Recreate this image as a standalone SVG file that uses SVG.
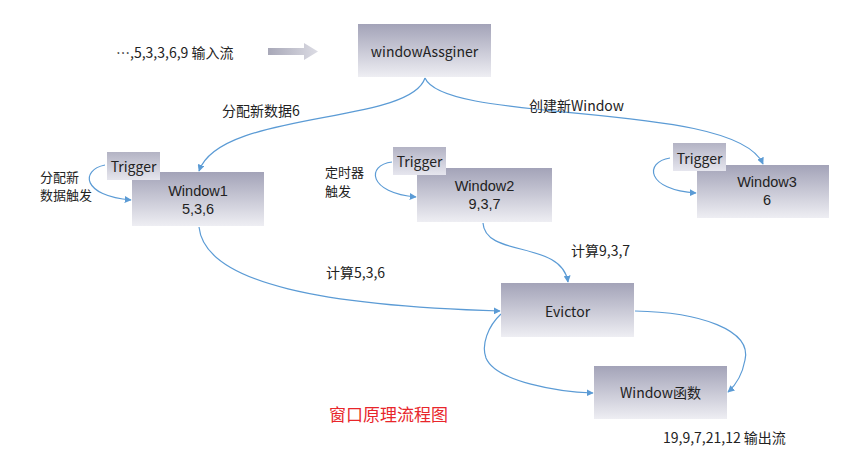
<svg xmlns="http://www.w3.org/2000/svg" width="845" height="464" viewBox="0 0 845 464">
<defs>
<linearGradient id="g" x1="0" y1="0" x2="0" y2="1">
<stop offset="0" stop-color="#a3a3b8"/>
<stop offset="1" stop-color="#eeeef3"/>
</linearGradient>
<linearGradient id="gt" x1="0" y1="0" x2="0" y2="1">
<stop offset="0" stop-color="#b3b3c4"/>
<stop offset="1" stop-color="#e6e6ee"/>
</linearGradient>
<linearGradient id="ga" x1="0" y1="0" x2="1" y2="0">
<stop offset="0" stop-color="#a8a8b8"/>
<stop offset="1" stop-color="#dcdce4"/>
</linearGradient>
<marker id="ar" viewBox="0 0 10 10" refX="9" refY="5" markerWidth="7" markerHeight="7" orient="auto" markerUnits="userSpaceOnUse">
<path d="M0,0 L10,5 L0,10 z" fill="#5b9bd5"/>
</marker>
</defs>
<style>
.box{fill:url(#g);}
.trg{fill:url(#gt);}
.t{font-family:"Noto Sans CJK SC","Microsoft YaHei",sans-serif;font-size:14px;fill:#222;dominant-baseline:central;}
.l{font-family:"Liberation Sans",Arial,sans-serif;font-size:14.5px;}
.s{font-size:13px;}
.c{text-anchor:middle;}
.edge{fill:none;stroke:#5b9bd5;stroke-width:1.2;marker-end:url(#ar);}
.red{fill:#e8262b;font-size:17px;}
</style>
<rect width="845" height="464" fill="#ffffff"/>

<g id="input">
<text class="t" x="116" y="52">…,5,3,3,6,9 输入流</text>
<path d="M268,48 L304,48 L304,43 L318,51.5 L304,60 L304,55 L268,55 z" fill="url(#ga)"/>
</g>

<g id="windowAssginer">
<rect class="box" x="358" y="24" width="133" height="53"/>
<text class="t c" x="424.5" y="51">windowAssginer</text>
</g>

<g id="connectors">
<path class="edge" d="M425,78 C410,125 220,110 199,171"/>
<path class="edge" d="M425,78 C445,125 735,100 763,164"/>
<path class="edge" d="M105,165 C80,170 82,196 131,200"/>
<path class="edge" d="M392,162 C366,165 368,193 416,197"/>
<path class="edge" d="M670,158 C644,162 646,190 696,193"/>
<path class="edge" d="M199,227 C205,285 330,306 500,311"/>
<path class="edge" d="M483,223 C485,258 562,240 568,282"/>
<path class="edge" d="M635,311 C700,312 752,330 745,360 C742,376 736,385 728,392"/>
<path class="edge" d="M501,314 C488,326 481,345 486,358 C496,382 560,392 593,393"/>
</g>

<g id="window1">
<rect class="box" x="132" y="172" width="132" height="54"/>
<text class="t l c" x="198" y="191">Window1</text>
<text class="t l c" x="198" y="209">5,3,6</text>
</g>
<g id="trigger1">
<rect class="trg" x="107" y="152" width="53" height="28"/>
<text class="t c" x="133.5" y="166">Trigger</text>
</g>

<g id="window2">
<rect class="box" x="417" y="168" width="135" height="54"/>
<text class="t l c" x="484.5" y="186">Window2</text>
<text class="t l c" x="484.5" y="204">9,3,7</text>
</g>
<g id="trigger2">
<rect class="trg" x="393" y="147" width="53" height="28"/>
<text class="t c" x="419.5" y="161">Trigger</text>
</g>

<g id="window3">
<rect class="box" x="697" y="165" width="132" height="53"/>
<text class="t l c" x="767" y="182">Window3</text>
<text class="t l c" x="767" y="200">6</text>
</g>
<g id="trigger3">
<rect class="trg" x="673" y="143" width="53" height="28"/>
<text class="t c" x="699.5" y="158">Trigger</text>
</g>

<g id="evictor">
<rect class="box" x="501" y="283" width="133" height="54"/>
<text class="t c" x="567.5" y="311">Evictor</text>
</g>

<g id="windowFunc">
<rect class="box" x="594" y="366" width="133" height="53"/>
<text class="t c" x="660.5" y="392">Window函数</text>
</g>

<g id="labels">
<text class="t" x="222" y="110">分配新数据6</text>
<text class="t" x="529" y="105">创建新Window</text>
<text class="t s" x="40" y="176">分配新</text>
<text class="t s" x="40" y="194">数据触发</text>
<text class="t s" x="325" y="171">定时器</text>
<text class="t s" x="325" y="190">触发</text>
<text class="t" x="571" y="250">计算9,3,7</text>
<text class="t" x="326" y="272">计算5,3,6</text>
<text class="t" x="663" y="437">19,9,7,21,12 输出流</text>
<text class="t red" x="329" y="413">窗口原理流程图</text>
</g>
</svg>
